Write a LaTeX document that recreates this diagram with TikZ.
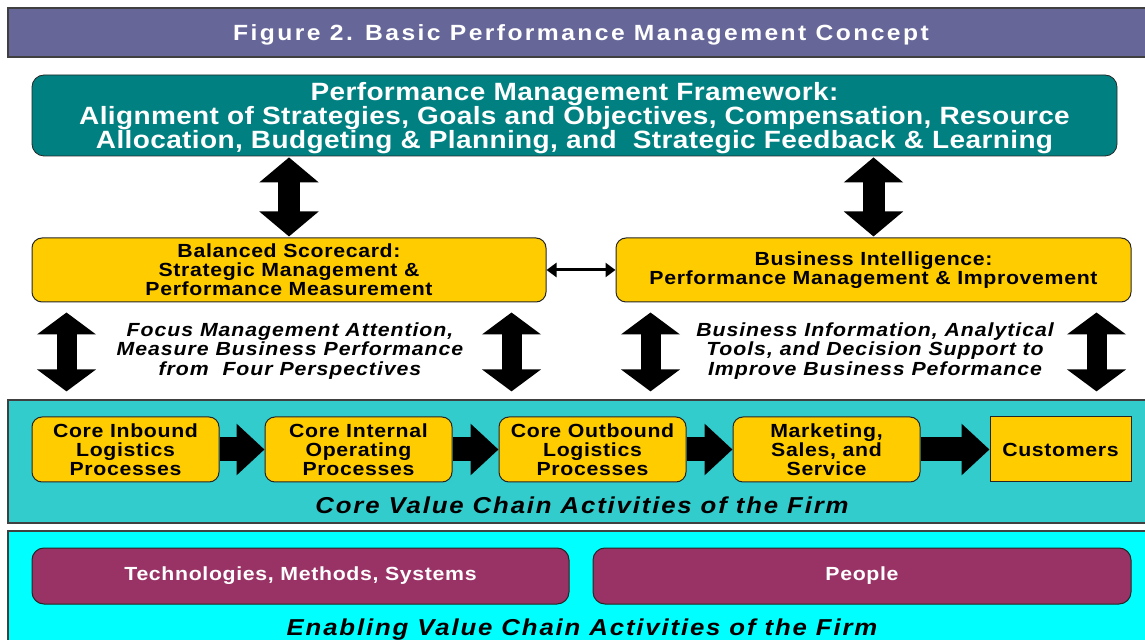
\documentclass[tikz,border=0pt]{standalone}
\usepackage{fontspec}
\setmainfont{Liberation Sans}[FakeStretch=1.12,LetterSpace=3.5]
\usetikzlibrary{arrows.meta}
\definecolor{titlebar}{HTML}{666699}
\definecolor{frameteal}{HTML}{008080}
\definecolor{boxyellow}{HTML}{FFCC00}
\definecolor{coreteal}{HTML}{33CCCC}
\definecolor{enabcyan}{HTML}{00FFFF}
\definecolor{enabplum}{HTML}{993366}
\tikzset{
  panel/.style={draw=black!75, line width=0.6pt, inner sep=0pt},
  ybox/.style={draw=black!85, fill=boxyellow, rounded corners=5pt, line width=0.5pt,
    align=center, inner sep=0pt, font=\bfseries\fontsize{9.5}{9.5}\selectfont},
  pbox/.style={draw=black!85, fill=enabplum, rounded corners=6pt, line width=0.5pt,
    inner sep=0pt, text=white, font=\bfseries\fontsize{9.5}{9.5}\selectfont},
  note/.style={align=center, font=\bfseries\itshape\fontsize{9.5}{9.8}\selectfont},
  uparrow/.style={line width=11pt, {Triangle[length=12.5pt,width=29pt]}-{Triangle[length=12.5pt,width=29pt]}},
  lowarrow/.style={line width=10pt, {Triangle[length=11pt,width=29pt]}-{Triangle[length=11pt,width=29pt]}},
  chainarrow/.style={line width=12pt, -{Triangle[length=14pt,width=25pt]}},
}
\begin{document}
\begin{tikzpicture}[x=0.5pt,y=-0.5pt]
  \path[use as bounding box, fill=white] (0,0) rectangle (1145,640);

  % title and framework
  \node[panel, fill=titlebar, minimum width=573pt, minimum height=24.5pt, text=white, text depth=0pt,
    font=\bfseries\fontsize{11}{11}\selectfont] (title) at (581,32.5)
    {\addfontfeature{LetterSpace=11}Figure 2. Basic Performance Management Concept};
  \node[draw=black!85, fill=frameteal, rounded corners=6pt, minimum width=542.5pt, minimum height=40.5pt,
    inner sep=0pt, align=center, text=white, text depth=0pt, font=\bfseries\fontsize{12.5}{12}\selectfont] (frame) at (574.5,115.5)
    {\addfontfeature{LetterSpace=1.5}Performance Management Framework:\\
     \addfontfeature{LetterSpace=1.5}Alignment of Strategies, Goals and Objectives, Compensation, Resource\\
     \addfontfeature{LetterSpace=1.5}Allocation, Budgeting \& Planning, and\ \ Strategic Feedback \& Learning};

  % scorecard and intelligence
  \node[ybox, minimum width=257pt, minimum height=32pt] (bsc) at (289,270)
    {Balanced Scorecard:\\Strategic Management \&\\Performance Measurement};
  \node[ybox, minimum width=257.5pt, minimum height=32pt] (bi) at (873.5,270)
    {Business Intelligence:\\Performance Management \& Improvement};
  \draw[uparrow] ([yshift=-0.5pt]bsc.north |- frame.south) -- ([yshift=0.5pt]bsc.north);
  \draw[uparrow] ([yshift=-0.5pt]bi.north |- frame.south) -- ([yshift=0.5pt]bi.north);
  \draw[line width=1.5pt, {Triangle[length=5pt,width=7pt]}-{Triangle[length=5pt,width=7pt]}] (bsc.east) -- (bi.west);

  % core value chain
  \node[panel, fill=coreteal, minimum width=573pt, minimum height=61.5pt] (core) at (581,461.5) {};
  \node[note] (focus) at (290,351)
    {\addfontfeature{LetterSpace=5}Focus Management Attention,\\
     \addfontfeature{LetterSpace=5}Measure Business Performance\\
     \addfontfeature{LetterSpace=5}from\ \ Four Perspectives};
  \node[note] (bitext) at (875,351)
    {\addfontfeature{LetterSpace=5}Business Information, Analytical\\
     \addfontfeature{LetterSpace=5}Tools, and Decision Support to\\
     \addfontfeature{LetterSpace=5}Improve Business Peformance};
  \draw[lowarrow] ([xshift=17.5pt,yshift=-5pt]bsc.south west) -- ([xshift=17.5pt,yshift=4pt]bsc.south west |- core.north);
  \draw[lowarrow] ([xshift=-17.5pt,yshift=-5pt]bsc.south east) -- ([xshift=-17.5pt,yshift=4pt]bsc.south east |- core.north);
  \draw[lowarrow] ([xshift=17.5pt,yshift=-5pt]bi.south west) -- ([xshift=17.5pt,yshift=4pt]bi.south west |- core.north);
  \draw[lowarrow] ([xshift=-17.5pt,yshift=-5pt]bi.south east) -- ([xshift=-17.5pt,yshift=4pt]bi.south east |- core.north);

  \node[ybox, minimum width=93.5pt, minimum height=32.5pt] (inbound) at (125.5,449.5)
    {Core Inbound\\Logistics\\Processes};
  \node[ybox, minimum width=93.5pt, minimum height=32.5pt] (internal) at (358.5,449.5)
    {Core Internal\\Operating\\Processes};
  \node[ybox, minimum width=93.5pt, minimum height=32.5pt] (outbound) at (592.5,449.5)
    {Core Outbound\\Logistics\\Processes};
  \node[ybox, minimum width=93.5pt, minimum height=32.5pt] (market) at (826.5,449.5)
    {Marketing,\\Sales, and\\Service};
  \node[ybox, rounded corners=0pt, minimum width=70.5pt, minimum height=32.5pt] (cust) at (1060.5,449.5)
    {Customers};
  \draw[chainarrow] (inbound) -- (internal);
  \draw[chainarrow] (internal) -- (outbound);
  \draw[chainarrow] (outbound) -- (market);
  \draw[chainarrow] (market) -- (cust);
  \node[font=\bfseries\itshape\fontsize{11.5}{11.5}\selectfont] (corelabel) at (582,505)
    {\addfontfeature{LetterSpace=8}Core Value Chain Activities of the Firm};

  % enabling activities
  \node[panel, fill=enabcyan, minimum width=573pt, minimum height=64.5pt] (enab) at (581,595.5) {};
  \node[pbox, minimum width=268.5pt, minimum height=28pt] (tech) at (300.5,576) {Technologies, Methods, Systems};
  \node[pbox, minimum width=269pt, minimum height=28pt] (people) at (862,576) {People};
  \node[font=\bfseries\itshape\fontsize{11.5}{11.5}\selectfont] (enablabel) at (582,630)
    {\addfontfeature{LetterSpace=8}Enabling Value Chain Activities of the Firm};
\end{tikzpicture}
\end{document}
